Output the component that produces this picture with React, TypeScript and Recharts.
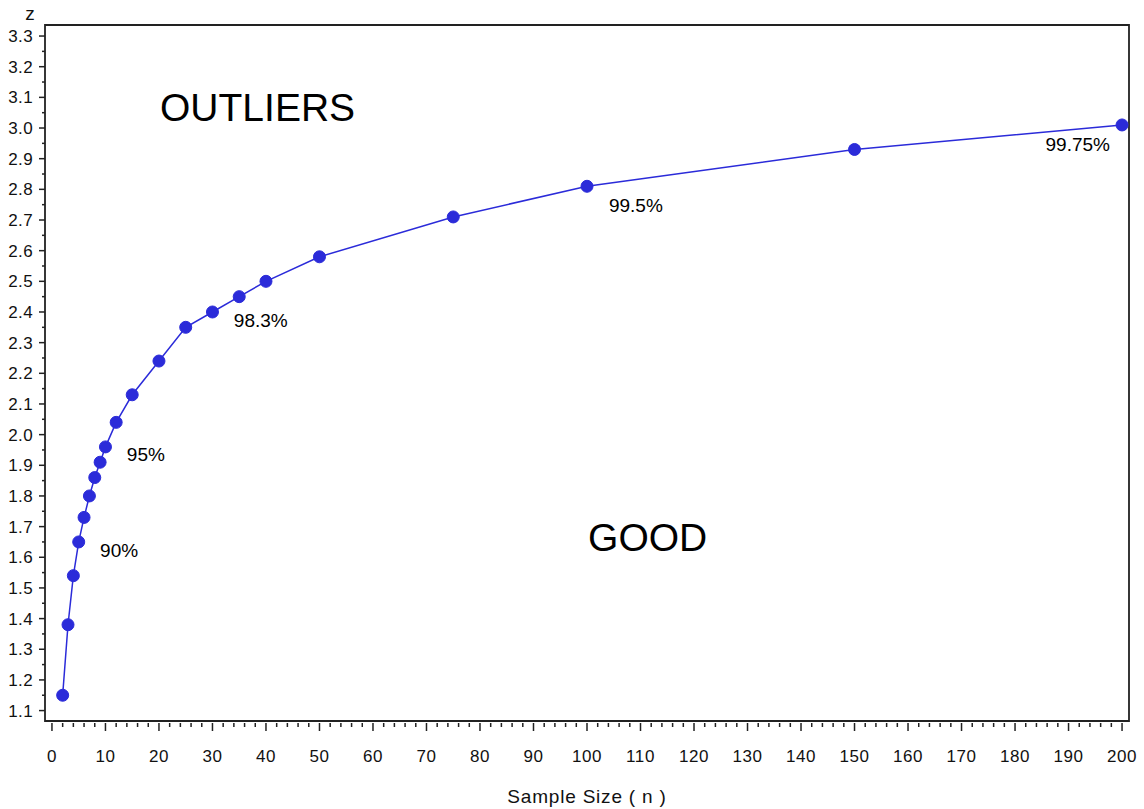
import React from "react";
import {
  ComposedChart,
  Line,
  XAxis,
  YAxis,
  ReferenceArea,
  ReferenceDot,
} from "recharts";

// critical z by sample size (Chauvenet style table)
const sampleSize = [2, 3, 4, 5, 6, 7, 8, 9, 10, 12, 15, 20, 25, 30, 35, 40, 50, 75, 100, 150, 200];
const zValue = [
  1.15, 1.38, 1.54, 1.65, 1.73, 1.8, 1.86, 1.91, 1.96, 2.04, 2.13, 2.24, 2.35, 2.4, 2.45, 2.5,
  2.58, 2.71, 2.81, 2.93, 3.01,
];

// percentage notes, anchored in data units
const noteText = ["90%", "95%", "98.3%", "99.5%", "99.75%"];
const noteN = [9, 14, 34, 104.1, 185.7];
const noteZ = [1.601, 1.915, 2.352, 2.727, 2.925];

// region names
const regionText = ["OUTLIERS", "GOOD"];
const regionN = [20.2, 100.2];
const regionZ = [3.023, 1.622];

const xMajor = [0, 10, 20, 30, 40, 50, 60, 70, 80, 90, 100, 110, 120, 130, 140, 150, 160, 170, 180, 190, 200];
const yMajor = [1.1, 1.2, 1.3, 1.4, 1.5, 1.6, 1.7, 1.8, 1.9, 2.0, 2.1, 2.2, 2.3, 2.4, 2.5, 2.6, 2.7, 2.8, 2.9, 3.0, 3.1, 3.2, 3.3];

const X_DOMAIN: [number, number] = [-1.3, 201.3];
const Y_DOMAIN: [number, number] = [1.066, 3.336];

const xTicks: number[] = [];
for (let i = 0; i < xMajor.length - 1; i++) {
  for (let k = 0; k < 5; k++) xTicks.push(xMajor[i] + k * 2);
}
xTicks.push(xMajor[xMajor.length - 1]);

const yTicks: number[] = [];
for (let i = 0; i < yMajor.length - 1; i++) {
  yTicks.push(yMajor[i], Number((yMajor[i] + 0.05).toFixed(2)));
}
yTicks.push(yMajor[yMajor.length - 1]);

const FONT = "'Liberation Sans', Arial, sans-serif";
const BLUE = "#2b2bd9";
const INK = "#222";

const data = sampleSize.map((n, i) => ({ n, z: zValue[i] }));

const XTick = (props: any) => {
  const { x, y, payload } = props;
  const v = payload.value as number;
  const major = xMajor.includes(v);
  return (
    <g>
      <line x1={x} x2={x} y1={y + 2} y2={y + (major ? 10 : 6)} stroke={INK} strokeWidth={1.5} />
      {major && (
        <text x={x} y={y + 41} textAnchor="middle" fontSize={17} letterSpacing={0.6} fontFamily={FONT} fill="#111">
          {v}
        </text>
      )}
    </g>
  );
};

const YTick = (props: any) => {
  const { x, y, payload } = props;
  const v = payload.value as number;
  const major = Math.round(v * 100) % 10 === 0;
  return (
    <g>
      <line x1={x} x2={x - (major ? 6 : 3)} y1={y} y2={y} stroke={INK} strokeWidth={1.5} />
      {major && (
        <text x={x - 12} y={y} dy="0.35em" textAnchor="end" fontSize={17} letterSpacing={0.4} fontFamily={FONT} fill="#111">
          {v.toFixed(1)}
        </text>
      )}
    </g>
  );
};

export default function App() {
  return (
    <div style={{ position: "absolute", left: 0, top: 0, width: 1144, height: 809, background: "#fff" }}>
      <ComposedChart
        width={1144}
        height={809}
        data={data}
        margin={{ top: 25, right: 15, bottom: 0, left: 0 }}
        style={{ fontFamily: FONT }}
      >
        <XAxis
          dataKey="n"
          type="number"
          domain={X_DOMAIN}
          allowDataOverflow
          ticks={xTicks}
          interval={0}
          height={88}
          tickSize={0}
          tickMargin={0}
          tickLine={false}
          axisLine={false}
          tick={<XTick />}
          label={{
            content: (p: any) => (
              <text
                x={p.viewBox.x + p.viewBox.width / 2}
                y={p.viewBox.y + 82}
                textAnchor="middle"
                fontSize={19}
                letterSpacing={0.8}
                fontFamily={FONT}
                fill="#111"
              >
                Sample Size ( n )
              </text>
            ),
          }}
        />
        <YAxis
          dataKey="z"
          type="number"
          domain={Y_DOMAIN}
          allowDataOverflow
          ticks={yTicks}
          interval={0}
          width={45}
          tickSize={0}
          tickMargin={0}
          tickLine={false}
          axisLine={false}
          tick={<YTick />}
          label={{
            content: (p: any) => (
              <text
                x={p.viewBox.x + p.viewBox.width - 15}
                y={p.viewBox.y - 5}
                textAnchor="middle"
                fontSize={19}
                fontFamily={FONT}
                fill="#111"
              >
                z
              </text>
            ),
          }}
        />
        <ReferenceArea
          x1={X_DOMAIN[0]}
          x2={X_DOMAIN[1]}
          y1={Y_DOMAIN[0]}
          y2={Y_DOMAIN[1]}
          fill="#fff"
          fillOpacity={0}
          stroke={INK}
          strokeWidth={1.8}
          strokeOpacity={1}
          ifOverflow="visible"
        />
        {regionText.map((t, i) => (
          <ReferenceDot
            key={t}
            x={regionN[i]}
            y={regionZ[i]}
            r={0}
            ifOverflow="visible"
            shape={(p: any) => (
              <text x={p.cx} y={p.cy} fontSize={39} fontFamily={FONT} fill="#000">
                {t}
              </text>
            )}
          />
        ))}
        {noteText.map((t, i) => (
          <ReferenceDot
            key={t}
            x={noteN[i]}
            y={noteZ[i]}
            r={0}
            ifOverflow="visible"
            shape={(p: any) => (
              <text x={p.cx} y={p.cy} fontSize={19} fontFamily={FONT} fill="#000">
                {t}
              </text>
            )}
          />
        ))}
        <Line
          type="linear"
          dataKey="z"
          stroke={BLUE}
          strokeWidth={1.5}
          dot={{ r: 6, fill: BLUE, stroke: BLUE, strokeWidth: 1 }}
          activeDot={false}
          isAnimationActive={false}
        />
      </ComposedChart>
    </div>
  );
}
